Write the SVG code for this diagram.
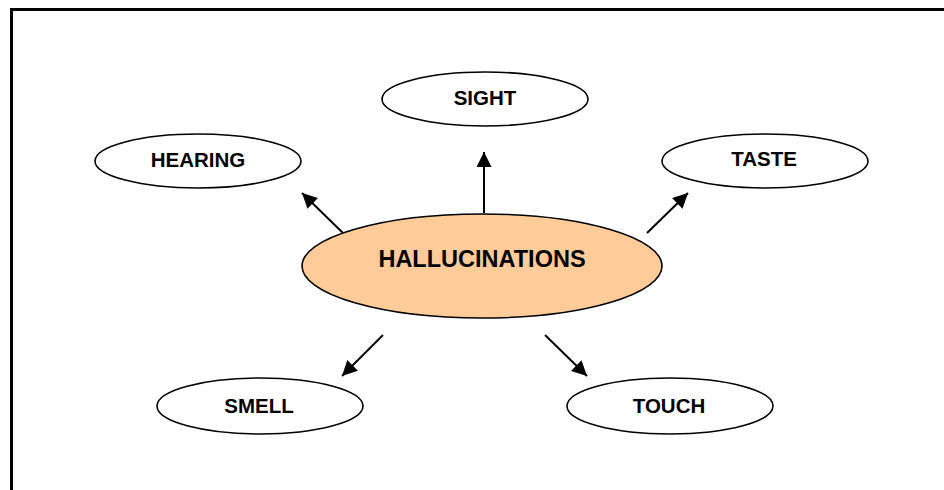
<svg xmlns="http://www.w3.org/2000/svg" width="944" height="490" viewBox="0 0 944 490">
<defs>
<style>
.n ellipse{fill:#fff;stroke:#000;stroke-width:1.6}
#hallucinations ellipse{fill:#FFCC99}
text{font-family:"Liberation Sans",Arial,sans-serif;font-weight:bold;fill:#000;text-anchor:middle}
.s{font-size:20.5px}
.b{font-size:23.5px}
#connectors line{stroke:#000;stroke-width:2;marker-end:url(#ah)}
</style>
<marker id="ah" viewBox="0 0 10 10" refX="10" refY="5" markerWidth="8.5" markerHeight="7.5" markerUnits="strokeWidth" orient="auto">
<path d="M0,0 L10,5 L0,10 Z" fill="#000"/>
</marker>
</defs>
<rect x="0" y="0" width="944" height="490" fill="#fff"/>
<rect x="11.5" y="9.5" width="960" height="500" fill="none" stroke="#000" stroke-width="3"/>
<g id="connectors">
<line x1="343" y1="233" x2="302" y2="193"/>
<line x1="484" y1="213" x2="484" y2="152"/>
<line x1="647" y1="233" x2="688" y2="193"/>
<line x1="383" y1="335" x2="342" y2="376"/>
<line x1="545" y1="335" x2="587" y2="376"/>
</g>
<g id="hallucinations" class="n">
<ellipse cx="482" cy="266" rx="180" ry="52"/>
<text class="b" x="482" y="267">HALLUCINATIONS</text>
</g>
<g id="sight" class="n">
<ellipse cx="485" cy="99" rx="103" ry="27"/>
<text class="s" x="485" y="105">SIGHT</text>
</g>
<g id="hearing" class="n">
<ellipse cx="198" cy="161" rx="103" ry="27"/>
<text class="s" x="198" y="167">HEARING</text>
</g>
<g id="taste" class="n">
<ellipse cx="765" cy="161" rx="103" ry="27"/>
<text class="s" x="764" y="166">TASTE</text>
</g>
<g id="smell" class="n">
<ellipse cx="260" cy="406" rx="103" ry="28"/>
<text class="s" x="259" y="413">SMELL</text>
</g>
<g id="touch" class="n">
<ellipse cx="670" cy="406" rx="103" ry="28"/>
<text class="s" x="669" y="413">TOUCH</text>
</g>
</svg>
